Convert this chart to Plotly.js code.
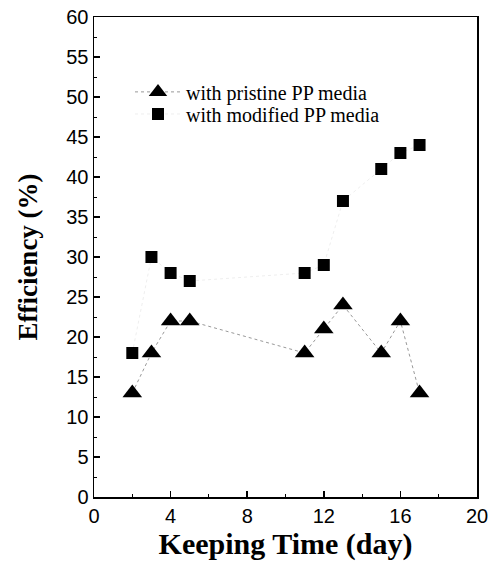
<!DOCTYPE html>
<html><head><meta charset="utf-8">
<script src="https://cdn.plot.ly/plotly-3.0.1.min.js"></script>
<style>html,body{margin:0;padding:0;background:#fff}</style>
</head><body>
<div id="chart" style="width:496px;height:567px"></div>
<script>
const days = [2, 3, 4, 5, 11, 12, 13, 15, 16, 17];
const pristine = [13, 18, 22, 22, 18, 21, 24, 18, 22, 13];
const modified = [18, 30, 28, 27, 28, 29, 37, 41, 43, 44];
const seriesNames = ['with pristine PP media', 'with modified PP media'];
const xTicks = [0, 4, 8, 12, 16, 20];

const serif = 'Liberation Serif, Times New Roman, serif';
const sans = 'Liberation Sans, Arial, sans-serif';

const traces = [
  {x: days, y: pristine, name: seriesNames[0], type: 'scatter', mode: 'lines+markers',
   legend: 'legend',
   line: {color: '#999', width: 1, dash: 'dot'},
   marker: {symbol: 'triangle-up', size: 17, color: '#000'}},
  {x: days, y: modified, name: seriesNames[1], type: 'scatter', mode: 'lines+markers',
   legend: 'legend2',
   line: {color: 'rgba(0,0,0,0.07)', width: 1, dash: 'dot'},
   marker: {symbol: 'square', size: 12, color: '#000'}}
];

const legendCommon = {xanchor: 'left', yanchor: 'middle', bgcolor: 'rgba(0,0,0,0)',
  font: {family: serif, size: 20, color: '#000'}, itemwidth: 46, borderwidth: 0};

const layout = {
  width: 496, height: 567,
  margin: {l: 94, r: 19, t: 17, b: 70},
  paper_bgcolor: '#fff', plot_bgcolor: '#fff',
  showlegend: true,
  legend: Object.assign({x: 0.094, y: 0.844}, legendCommon),
  legend2: Object.assign({x: 0.094, y: 0.798}, legendCommon),
  xaxis: {range: [0, 20], tickvals: xTicks, ticks: 'inside', ticklen: 6,
          tickcolor: '#000', tickwidth: 1.5, showline: true, linecolor: '#000', linewidth: 1.5,
          mirror: true, showgrid: false, zeroline: false,
          minor: {dtick: 2, ticks: 'inside', ticklen: 3, tickcolor: '#000', tickwidth: 1},
          tickfont: {family: sans, size: 20, color: '#000'},
          title: {text: 'Keeping Time (day)', standoff: 6,
                  font: {family: serif, size: 30, color: '#000', weight: 'bold'}}},
  yaxis: {range: [0, 60], dtick: 5, ticks: 'inside', ticklen: 6,
          tickcolor: '#000', tickwidth: 1.5, showline: true, linecolor: '#000', linewidth: 1.5,
          mirror: true, showgrid: false, zeroline: false,
          minor: {dtick: 2.5, ticks: 'inside', ticklen: 3, tickcolor: '#000', tickwidth: 1},
          tickfont: {family: sans, size: 20, color: '#000'},
          title: {text: 'Efficiency (%)', standoff: 21,
                  font: {family: serif, size: 27, color: '#000', weight: 'bold'}}}
};
Plotly.newPlot('chart', traces, layout, {displayModeBar: false, staticPlot: true});
</script>
</body></html>
